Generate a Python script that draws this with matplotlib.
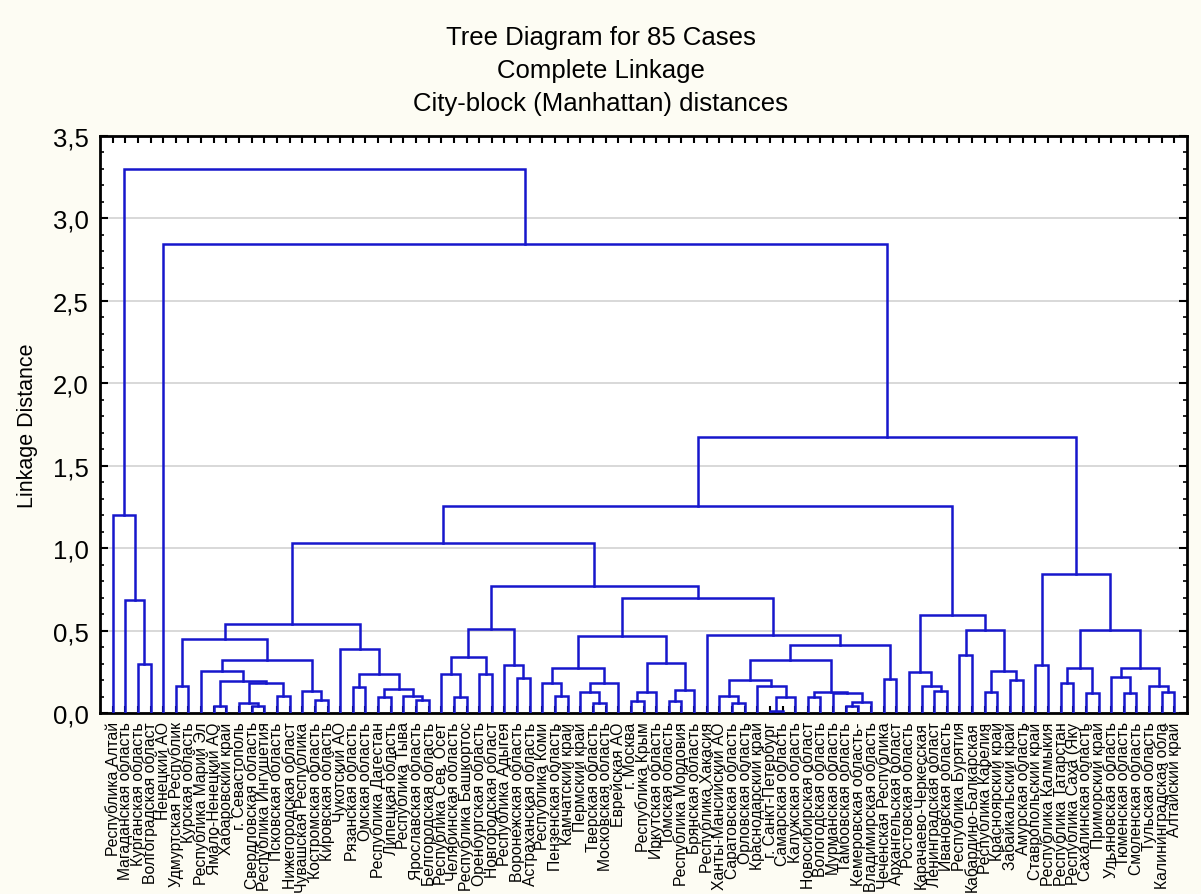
import matplotlib
matplotlib.use('Agg')
import matplotlib.pyplot as plt
from matplotlib.ticker import MultipleLocator, FuncFormatter

plt.rcParams['font.family'] = ['Liberation Sans', 'DejaVu Sans']

# leaf labels, left to right
labels = [
    'Республика Алтай', 'Магаданская область', 'Курганская область', 'Волгоградская област',
    'Ненецкий АО', 'Удмуртская Республик', 'Курская область', 'Республика Марий Эл',
    'Ямало-Ненецкий АО', 'Хабаровский край', 'г. Севастополь', 'Свердловская область',
    'Республика Ингушетия', 'Псковская область', 'Нижегородская област', 'Чувашская Республика',
    'Костромская область', 'Кировская область', 'Чукотский АО', 'Рязанская область',
    'Омская область', 'Республика Дагестан', 'Липецкая область', 'Республика Тыва',
    'Ярославская область', 'Белгородская область', 'Республика Сев. Осет', 'Челябинская область',
    'Республика Башкортос', 'Оренбургская область', 'Новгородская област', 'Республика Адыгея',
    'Воронежская область', 'Астраханская область', 'Республика Коми', 'Пензенская область',
    'Камчатский край', 'Пермский край', 'Тверская область', 'Московская область',
    'Еврейская АО', 'г. Москва', 'Республика Крым', 'Иркутская область',
    'Томская область', 'Республика Мордовия', 'Брянская область', 'Республика Хакасия',
    'Ханты-Мансийский АО', 'Саратовская область', 'Орловская область', 'Краснодарский край',
    'г. Санкт-Петербург', 'Самарская область', 'Калужская область', 'Новосибирская област',
    'Вологодская область', 'Мурманская область', 'Тамбовская область', 'Кемеровская область-',
    'Владимирская область', 'Чеченская Республика', 'Архангельская област', 'Ростовская область',
    'Карачаево-Черкесская', 'Ленинградская област', 'Ивановская область', 'Республика Бурятия',
    'Кабардино-Балкарская', 'Республика Карелия', 'Красноярский край', 'Забайкальский край',
    'Амурская область', 'Ставропольский край', 'Республика Калмыкия', 'Республика Татарстан',
    'Республика Саха (Яку', 'Сахалинская область', 'Приморский край', 'Ульяновская область',
    'Тюменская область', 'Смоленская область', 'Тульская область', 'Калининградская обла',
    'Алтайский край',
]

# merges like a linkage matrix: leaves 0..84, merge k gets id 85+k
merges = [
    (2, 3, 0.30), (1, 85, 0.685), (0, 86, 1.20),
    (5, 6, 0.166), (8, 9, 0.044), (11, 12, 0.04), (10, 90, 0.06), (13, 14, 0.105),
    (91, 92, 0.18), (89, 93, 0.196), (7, 94, 0.257), (16, 17, 0.08), (15, 96, 0.135),
    (95, 97, 0.32), (88, 98, 0.45),
    (19, 20, 0.16), (21, 22, 0.095), (24, 25, 0.08), (23, 102, 0.105), (101, 103, 0.145),
    (100, 104, 0.236), (18, 105, 0.39), (99, 106, 0.54),
    (27, 28, 0.10), (26, 108, 0.236), (29, 30, 0.236), (109, 110, 0.34), (32, 33, 0.21),
    (31, 112, 0.29), (111, 113, 0.51),
    (35, 36, 0.105), (34, 115, 0.18), (38, 39, 0.06), (37, 117, 0.125), (118, 40, 0.185),
    (116, 119, 0.275), (41, 42, 0.075), (121, 43, 0.125), (44, 45, 0.075), (123, 46, 0.14),
    (122, 124, 0.305), (120, 125, 0.47),
    (49, 50, 0.06), (48, 127, 0.105), (52, 53, 0.015), (129, 54, 0.10), (51, 130, 0.166),
    (128, 131, 0.20), (55, 56, 0.10), (58, 59, 0.04), (134, 60, 0.065), (57, 135, 0.12),
    (133, 136, 0.13), (132, 137, 0.32), (61, 62, 0.206), (138, 139, 0.41), (47, 140, 0.475),
    (126, 141, 0.695), (114, 142, 0.77), (107, 143, 1.03),
    (65, 66, 0.135), (64, 145, 0.166), (63, 146, 0.247), (67, 68, 0.352), (69, 70, 0.13),
    (71, 72, 0.20), (149, 150, 0.257), (148, 151, 0.503), (147, 152, 0.596), (144, 153, 1.257),
    (73, 74, 0.29), (75, 76, 0.18), (77, 78, 0.12), (156, 157, 0.273), (80, 81, 0.12),
    (79, 159, 0.22), (83, 84, 0.13), (82, 161, 0.166), (160, 162, 0.273), (158, 163, 0.503),
    (155, 164, 0.843), (154, 165, 1.672), (4, 166, 2.845), (87, 167, 3.30),
]

title_lines = ['Tree Diagram for 85 Cases', 'Complete Linkage', 'City-block (Manhattan) distances']

n = len(labels)
W, H = 1201, 895
fig = plt.figure(figsize=(W / 100, H / 100), dpi=100, facecolor='#fdfcf3')
ax = fig.add_axes([100 / W, 1 - 714 / H, 1087 / W, 577 / H])
ax.set_facecolor('white')

# node positions: leaves at 1..n
pos = {i: (i + 1, 0.0) for i in range(n)}
for k, (a, b, h) in enumerate(merges):
    xa, ya = pos[a]
    xb, yb = pos[b]
    ax.plot([xa, xa, xb, xb], [ya, h, h, yb], color='#1717cc', lw=1.8,
            solid_joinstyle='miter', zorder=3)
    pos[n + k] = ((xa + xb) / 2, h)

ax.set_xlim(0, n + 1)
ax.set_ylim(0, 3.5)
ax.set_xticks(range(1, n + 1))
ax.set_xticklabels(labels, rotation=90, fontsize=11.3, va='top', ha='center')
ax.yaxis.set_major_locator(MultipleLocator(0.5))
ax.yaxis.set_minor_locator(MultipleLocator(0.1))
ax.yaxis.set_major_formatter(FuncFormatter(lambda v, p: f'{v:.1f}'.replace('.', ',')))
ax.tick_params(axis='y', which='major', labelsize=18.5, direction='in', length=6, width=1.5,
               right=True, pad=8)
ax.tick_params(axis='y', which='minor', direction='in', length=3, width=1.2, right=True)
ax.tick_params(axis='x', direction='in', length=5, width=1.5, top=True, pad=6)
ax.yaxis.grid(True, which='major', color='#d2d2d2', lw=1.2)
ax.set_axisbelow(True)
for s in ax.spines.values():
    s.set_linewidth(2)

ax.set_ylabel('Linkage Distance', fontsize=15.5)
ax.yaxis.set_label_coords(-0.057, 0.5)

for t, y in zip(title_lines, [38, 71, 104]):
    fig.text(0.5, 1 - y / H, t, ha='center', va='center', fontsize=18.5)

fig.savefig('out.png', dpi=100, facecolor=fig.get_facecolor())
